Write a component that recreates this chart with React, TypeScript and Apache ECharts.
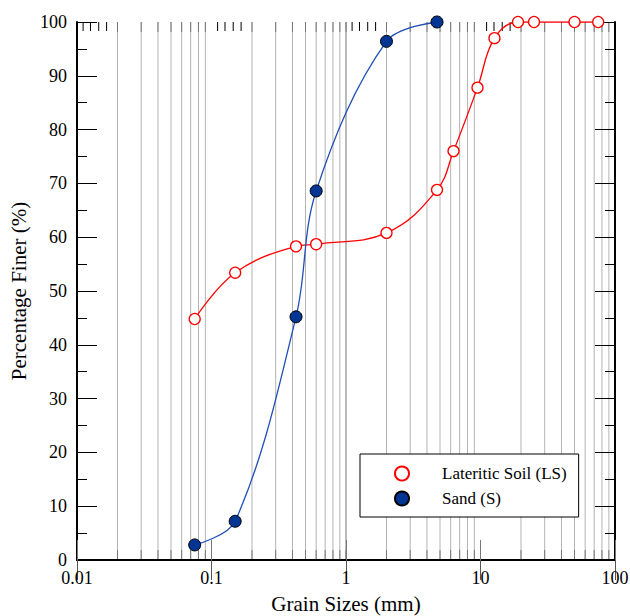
import React, { useEffect, useRef } from "react";
import * as echarts from "echarts";

// Lateritic Soil (LS)
const lsSizes = [0.075, 0.15, 0.425, 0.6, 2, 4.75, 6.3, 9.5, 12.7, 19, 25, 50, 75];
const lsFiner = [44.8, 53.4, 58.3, 58.7, 60.8, 68.8, 76, 87.8, 97, 100, 100, 100, 100];
// Sand (S)
const sSizes = [0.075, 0.15, 0.425, 0.6, 2, 4.75];
const sFiner = [2.8, 7.2, 45.2, 68.6, 96.4, 100];

// vertical grid lines (log minor positions; 1 also has a line)
const gridX = [
  0.02, 0.03, 0.04, 0.05, 0.06, 0.07, 0.08, 0.09,
  0.2, 0.3, 0.4, 0.5, 0.6, 0.7, 0.8, 0.9, 1,
  2, 3, 4, 5, 6, 7, 8, 9,
  20, 30, 40, 50, 60, 70, 80, 90,
];
// extra short ticks along the top edge
const topExtraTicks = [
  0.0111, 0.0126, 0.0145, 0.0166,
  0.111, 0.126, 0.145, 0.166,
  1.11, 1.26, 1.45, 1.66,
  11.1, 12.6, 14.5, 16.6,
];
const yTicks = { min: 0, max: 100, interval: 10 };

const FONT = "Liberation Serif";

export default function App() {
  const ref = useRef<HTMLDivElement>(null);
  useEffect(() => {
    if (!ref.current) return;
    const chart = echarts.init(ref.current, undefined, { renderer: "svg" });
    const fmt = (v: number) => String(Number(Number(v).toPrecision(3)));
    chart.setOption({
      animation: false,
      backgroundColor: "#fff",
      textStyle: { fontFamily: FONT },
      grid: { left: 77, right: 15, top: 22, bottom: 56, outerBoundsMode: "none", containLabel: false },
      legend: {
        orient: "vertical",
        left: 360,
        top: 454,
        backgroundColor: "#fff",
        borderColor: "#000",
        borderWidth: 1,
        borderRadius: 0,
        padding: [11, 12, 10, 34],
        itemGap: 8,
        itemWidth: 14,
        itemHeight: 14,
        textStyle: { fontFamily: FONT, fontSize: 17, color: "#000", padding: [0, 0, 0, 28] },
        data: [
          { name: "Lateritic Soil (LS)", icon: "circle" },
          { name: "Sand (S)", icon: "circle" },
        ],
      },
      xAxis: [
        {
          type: "log",
          logBase: 10,
          min: 0.01,
          max: 100,
          position: "bottom",
          name: "Grain Sizes (mm)",
          nameLocation: "middle",
          nameGap: 33,
          nameTextStyle: { fontFamily: FONT, fontSize: 21, color: "#000" },
          axisLine: { lineStyle: { color: "#000", width: 2 } },
          axisTick: { inside: true, length: 20, lineStyle: { color: "#777", width: 1 } },
          axisLabel: { fontFamily: FONT, fontSize: 18, color: "#000", margin: 9, formatter: fmt },
          splitLine: { show: false },
        },
        {
          type: "log",
          logBase: 10,
          min: 0.01,
          max: 100,
          position: "top",
          axisLine: { lineStyle: { color: "#000", width: 2 } },
          axisTick: { inside: true, length: 20, lineStyle: { color: "#555", width: 1 } },
          axisLabel: { show: false },
          splitLine: { show: false },
        },
      ],
      yAxis: [
        {
          type: "value",
          min: yTicks.min,
          max: yTicks.max,
          interval: yTicks.interval,
          position: "left",
          name: "Percentage Finer (%)",
          nameLocation: "middle",
          nameGap: 45,
          nameTextStyle: { fontFamily: FONT, fontSize: 21, color: "#000" },
          axisLine: { show: true, lineStyle: { color: "#000", width: 2 } },
          axisTick: { show: true, inside: true, length: 20, lineStyle: { color: "#000", width: 1 } },
          minorTick: { show: true, splitNumber: 2, length: 10, lineStyle: { color: "#000", width: 1 } },
          axisLabel: { fontFamily: FONT, fontSize: 18, color: "#000", margin: 10 },
          splitLine: { show: false },
        },
        {
          type: "value",
          min: yTicks.min,
          max: yTicks.max,
          interval: yTicks.interval,
          position: "right",
          axisLine: { show: true, lineStyle: { color: "#000", width: 2 } },
          axisTick: { show: true, inside: true, length: 20, lineStyle: { color: "#000", width: 1 } },
          minorTick: { show: true, splitNumber: 2, length: 10, lineStyle: { color: "#000", width: 1 } },
          axisLabel: { show: false },
          splitLine: { show: false },
        },
      ],
      series: [
        {
          type: "custom",
          name: "grid",
          silent: true,
          z: 0,
          xAxisIndex: 0,
          yAxisIndex: 0,
          encode: { x: 0, y: 1 },
          data: gridX.map((v) => [v, 0]),
          renderItem: (_p: any, api: any) => {
            const v = api.value(0);
            const b = api.coord([v, 0]);
            const t = api.coord([v, 100]);
            const isOne = Math.abs(v - 1) < 1e-9;
            return {
              type: "group",
              children: [
                {
                  type: "line",
                  shape: { x1: b[0], y1: b[1], x2: t[0], y2: t[1] },
                  style: { stroke: isOne ? "#777" : "#b4b4b4", lineWidth: 1 },
                },
                {
                  type: "line",
                  shape: { x1: b[0], y1: b[1], x2: b[0], y2: b[1] - 10 },
                  style: { stroke: "#777", lineWidth: 1 },
                },
                {
                  type: "line",
                  shape: { x1: t[0], y1: t[1], x2: t[0], y2: t[1] + 10 },
                  style: { stroke: "#777", lineWidth: 1 },
                },
              ],
            };
          },
        },
        {
          type: "custom",
          name: "topTicks",
          silent: true,
          z: 0,
          xAxisIndex: 0,
          yAxisIndex: 0,
          encode: { x: 0, y: 1 },
          data: topExtraTicks.map((v) => [v, 100]),
          renderItem: (_p: any, api: any) => {
            const t = api.coord([api.value(0), 100]);
            return {
              type: "line",
              shape: { x1: t[0], y1: t[1], x2: t[0], y2: t[1] + 9 },
              style: { stroke: "#000", lineWidth: 1 },
            };
          },
        },
        {
          type: "line",
          name: "Lateritic Soil (LS)",
          z: 3,
          data: lsSizes.map((x, i) => [x, lsFiner[i]]),
          smooth: 0.4,
          symbol: "circle",
          symbolSize: 11,
          lineStyle: { color: "#ff0000", width: 1.3 },
          itemStyle: { color: "#ffffff", borderColor: "#ff0000", borderWidth: 1.3 },
        },
        {
          type: "line",
          name: "Sand (S)",
          z: 4,
          data: sSizes.map((x, i) => [x, sFiner[i]]),
          smooth: 0.35,
          symbol: "circle",
          symbolSize: 12,
          lineStyle: { color: "#1f4fb5", width: 1.3 },
          itemStyle: { color: "#003594", borderColor: "#000", borderWidth: 1 },
        },
      ],
    });
    return () => chart.dispose();
  }, []);
  return <div ref={ref} style={{ width: 630, height: 616, position: "absolute", left: 0, top: 0 }} />;
}
